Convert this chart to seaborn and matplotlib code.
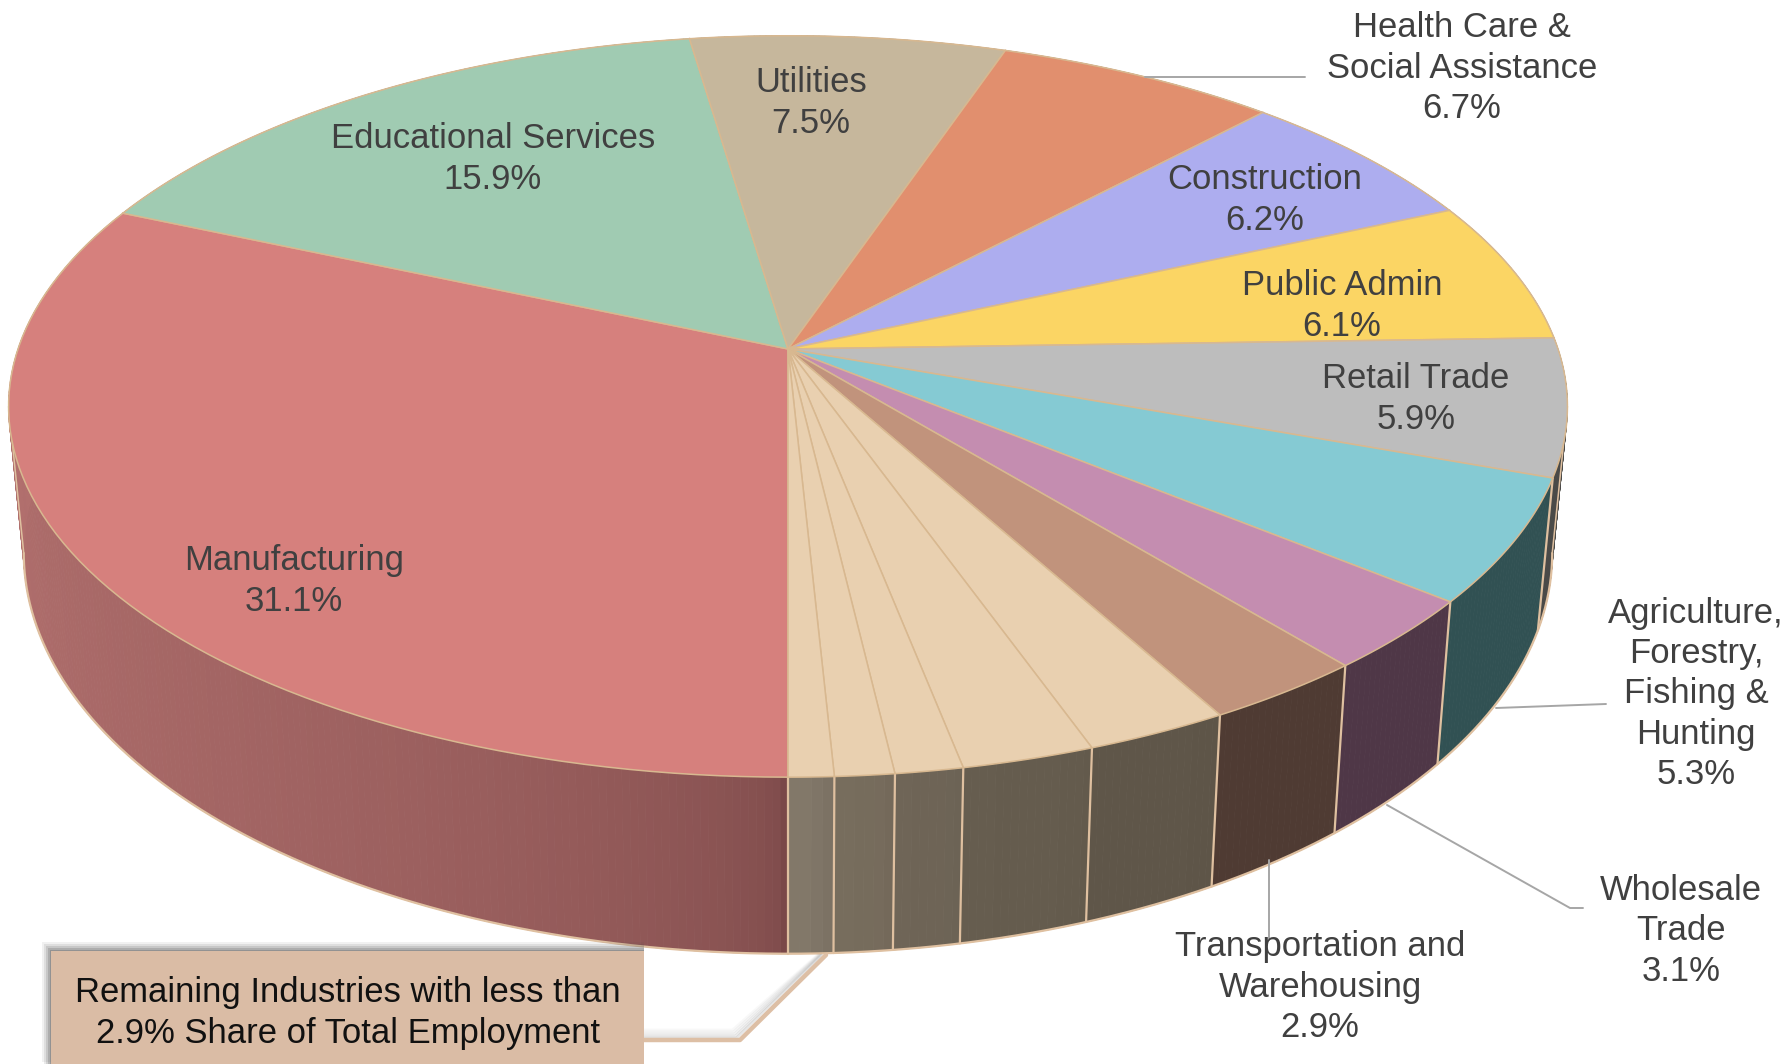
import numpy as np
import matplotlib
matplotlib.use("Agg")
import matplotlib.pyplot as plt
from matplotlib.collections import PolyCollection
from matplotlib.patches import Rectangle
import seaborn as sns

# Valores, en sentido horario desde el frente del pastel
categories = ["Manufacturing", "Educational Services", "Utilities",
              "Health Care & Social Assistance", "Construction", "Public Admin",
              "Retail Trade", "Agriculture, Forestry, Fishing & Hunting",
              "Wholesale Trade", "Transportation and Warehousing",
              "Remaining 1", "Remaining 2", "Remaining 3", "Remaining 4", "Remaining 5"]
shares = [31.1, 15.9, 7.5, 6.7, 6.2, 6.1, 5.9, 5.3, 3.1, 2.9, 2.55, 2.35, 1.2, 1.05, 0.8]
top_colors = ["#D6807D", "#A0CBB2", "#C6B79C", "#E18F6E", "#ADADEF", "#FBD564", "#BDBDBD",
              "#85CAD3", "#C48DB0", "#C1937C", "#E9D0B0", "#E9D0B0", "#E9D0B0", "#E9D0B0", "#E9D0B0"]
wall_start = ["#7A4848", "#6F8A79", "#8A7F6C", "#9C6349", "#7777A6", "#AE9445", "#4A4A48",
              "#315153", "#4F3747", "#4F3B33", "#5E5548", "#635A4C", "#6C6355", "#74695A", "#7C7264"]
wall_end = ["#B87472", "#6F8A79", "#8A7F6C", "#9C6349", "#7777A6", "#AE9445", "#4A4A48",
            "#315153", "#4F3747", "#4F3B33", "#5F5649", "#665D4F", "#6F6557", "#786E5E", "#857B6C"]

EDGE = "#DFC0A0"
TOP_EDGE = "#D8B890"
TEXT = "#404040"
LEADER = "#A6A6A6"

# Geometria del pastel en perspectiva (pixeles)
CX, K = 788, 0.155
TOP_Y, TOP_A, TOP_R = 349, 361.8, 770
LOW_Y, LOW_A, LOW_R = 491, 391, 755
TANGENT = np.degrees(np.arccos(K))


def rim(theta, cy, a, r):
    """Punto del borde; theta en grados, horario desde el frente."""
    t = np.radians(theta)
    d = 1 - K * np.cos(t)
    return CX - r * np.sin(t) / d, cy + a * np.cos(t) / d


angles = np.concatenate([[0], np.cumsum(shares)]) / np.sum(shares) * 360

sns.set_theme(style="white")
plt.rcParams["font.family"] = ["Liberation Sans", "DejaVu Sans"]

fig = plt.figure(figsize=(17.86, 10.64), dpi=100)
ax = fig.add_axes([0, 0, 1, 1])
ax.set_xlim(0, 1786)
ax.set_ylim(1064, 0)
ax.axis("off")

# Pared lateral con degradado por porcion
polys, faces = [], []
for i in range(len(shares)):
    steps = max(int(angles[i + 1] - angles[i]) * 2, 4)
    th = np.linspace(angles[i], angles[i + 1], steps + 1)
    pal = sns.blend_palette([wall_start[i], wall_end[i]], steps)
    for j in range(steps):
        x1, y1 = rim(th[j], TOP_Y, TOP_A, TOP_R)
        x2, y2 = rim(th[j + 1], TOP_Y, TOP_A, TOP_R)
        x3, y3 = rim(th[j + 1], LOW_Y, LOW_A, LOW_R)
        x4, y4 = rim(th[j], LOW_Y, LOW_A, LOW_R)
        polys.append([(x1, y1), (x2, y2), (x3, y3), (x4, y4)])
        faces.append(pal[int((j / steps) ** 0.4 * (steps - 1))])
ax.add_collection(PolyCollection(polys, facecolors=faces, edgecolors=faces, linewidths=0.6, zorder=1))

# Separadores de la pared y borde inferior
for a in angles[:-1]:
    x1, y1 = rim(a, TOP_Y, TOP_A, TOP_R)
    x2, y2 = rim(a, LOW_Y, LOW_A, LOW_R)
    ax.plot([x1, x2], [y1, y2], color=EDGE, lw=1.6, zorder=2)
th = np.linspace(-TANGENT, TANGENT, 300)
lx, ly = rim(th, LOW_Y, LOW_A, LOW_R)
ax.plot(lx, ly, color=EDGE, lw=1.6, zorder=2)
for side in (-TANGENT, TANGENT):
    x1, y1 = rim(side, TOP_Y, TOP_A, TOP_R)
    x2, y2 = rim(side, LOW_Y, LOW_A, LOW_R)
    ax.plot([x1, x2], [y1, y2], color=EDGE, lw=1.1, zorder=2)

# Tapa superior
for i in range(len(shares)):
    th = np.linspace(angles[i], angles[i + 1], 80)
    x, y = rim(th, TOP_Y, TOP_A, TOP_R)
    ax.fill(np.r_[CX, x], np.r_[TOP_Y, y], facecolor=top_colors[i], edgecolor=TOP_EDGE, lw=1.1, zorder=3)

# Lineas guia
ax.plot([1145, 1305], [77, 77], color=LEADER, lw=1.4, zorder=4)
ax.plot([1496, 1606], [708, 704], color=LEADER, lw=1.4, zorder=4)
ax.plot([1387, 1570, 1583], [805, 908, 908], color=LEADER, lw=1.4, zorder=4)
ax.plot([1269, 1269], [860, 940], color=LEADER, lw=1.4, zorder=4)

# Caja de industrias restantes, con sombra
for grow, alpha in zip([9, 7, 5, 3, 1], [0.08, 0.12, 0.16, 0.22, 0.3]):
    ax.add_patch(Rectangle((51 - grow, 951 - grow), 593 + grow, 120, facecolor="#555555",
                           edgecolor="none", alpha=alpha, zorder=4))
    ax.plot([644, 737 - grow / 2, 822 - grow / 2], [1039 - grow, 1039 - grow, 955],
            color="#777777", lw=2, alpha=alpha * 0.6, zorder=4)
ax.plot([640, 740, 826], [1040, 1040, 955], color="#DDBFA5", lw=3.2, zorder=5)
ax.add_patch(Rectangle((51, 951), 593, 120, facecolor="#DABCA5", edgecolor="none", zorder=6))

# Etiquetas
labels = [(294, 581, "Manufacturing\n31.1%"),
          (493, 159, "Educational Services\n15.9%"),
          (811, 103, "Utilities\n7.5%"),
          (1462, 68, "Health Care &\nSocial Assistance\n6.7%"),
          (1265, 200, "Construction\n6.2%"),
          (1342, 306, "Public Admin\n6.1%"),
          (1416, 399, "Retail Trade\n5.9%"),
          (1696, 694, "Agriculture,\nForestry,\nFishing &\nHunting\n5.3%"),
          (1681, 931, "Wholesale\nTrade\n3.1%"),
          (1320, 987, "Transportation and\nWarehousing\n2.9%")]
for x, y, s in labels:
    ax.text(x, y, s, ha="center", va="center", color=TEXT, fontsize=24.9, linespacing=1.28, zorder=7)
ax.text(348, 1013, "Remaining Industries with less than\n2.9% Share of Total Employment",
        ha="center", va="center", color="#111111", fontsize=24.9, linespacing=1.28, zorder=7)

fig.savefig("out.png", dpi=100)
